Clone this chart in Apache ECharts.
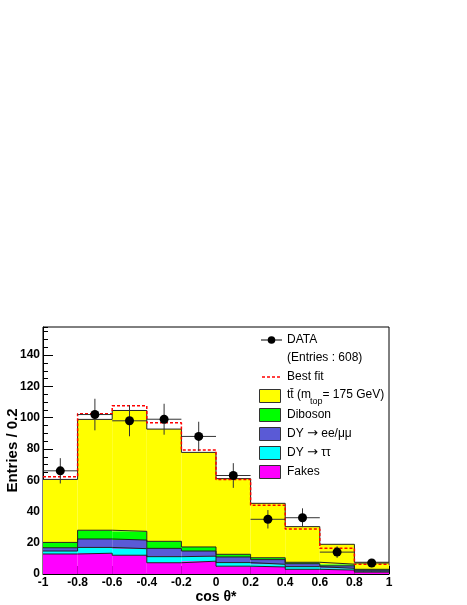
<!DOCTYPE html>
<html>
<head>
<meta charset="utf-8">
<script src="https://cdn.jsdelivr.net/npm/echarts@6/dist/echarts.min.js"></script>
<style>
html,body{margin:0;padding:0;background:#fff;}
#chart{width:467px;height:605px;}
</style>
</head>
<body>
<div id="chart"></div>
<script>
// ---- data ----
const binLow = [-1, -0.8, -0.6, -0.4, -0.2, 0, 0.2, 0.4, 0.6, 0.8];
const binWidth = 0.2;
const fakes    = [12.8, 13.3, 12.0, 7.2, 8.2, 5.0, 4.5, 3.0, 2.5, 1.2];
const dyTauTau = [1.9, 3.7, 4.2, 3.9, 3.2, 2.3, 1.7, 1.7, 1.1, 0.6];
const dyEeMuMu = [2.1, 5.4, 5.5, 5.3, 3.3, 3.6, 3.0, 1.9, 1.6, 0.7];
const diboson  = [3.4, 5.6, 5.6, 4.5, 2.6, 1.7, 1.2, 0.9, 1.1, 0.5];
const ttbar    = [40.3, 70.9, 77.3, 71.8, 60.5, 48.4, 34.8, 22.8, 12.7, 4.5];
const bestFit  = [62.2, 102.5, 107.6, 96.7, 79.3, 60.5, 44.0, 28.8, 16.4, 6.2];
const dataCounts = [66, 102, 98, 99, 88, 63, 35, 36, 14, 7];
const dataErr    = [8.1, 10.1, 9.9, 9.9, 9.4, 7.9, 5.9, 6.0, 3.7, 2.6];
const yTicks = [0, 20, 40, 60, 80, 100, 120, 140];
const xTicks = [-1, -0.8, -0.6, -0.4, -0.2, 0, 0.2, 0.4, 0.6, 0.8, 1];

const components = [
  {name: 'Fakes', values: fakes, color: '#ff00ff'},
  {name: 'DY \u2192 \u03c4\u03c4', values: dyTauTau, color: '#00ffff'},
  {name: 'DY \u2192 ee/\u03bc\u03bc', values: dyEeMuMu, color: '#5a5ad6'},
  {name: 'Diboson', values: diboson, color: '#00ff00'},
  {name: 'ttbar', values: ttbar, color: '#ffff00'}
];

const FONT = '"Liberation Sans", Arial, Helvetica, sans-serif';
const series = [];
let bottoms = binLow.map(() => 0);
const tops = [];
components.forEach((c) => {
  const rows = binLow.map((x, i) => [x, x + binWidth, bottoms[i], bottoms[i] + c.values[i]]);
  const top = rows.map(r => r[3]);
  tops.push(top);
  series.push({
    type: 'custom', name: c.name, z: 2,
    data: rows,
    encode: {x: [0, 1], y: [2, 3]},
    renderItem: (params, api) => {
      const p0 = api.coord([api.value(0), api.value(3)]);
      const p1 = api.coord([api.value(1), api.value(2)]);
      return {type: 'rect', shape: {x: p0[0], y: p0[1], width: p1[0] - p0[0], height: p1[1] - p0[1]},
        style: {fill: c.color}};
    }
  });
  bottoms = top;
});
// outlines of each stacked layer (step lines)
tops.forEach((top) => {
  const pts = binLow.map((x, i) => [x, top[i]]);
  pts.push([binLow[binLow.length - 1] + binWidth, top[top.length - 1]]);
  series.push({
    type: 'line', step: 'end', data: pts, symbol: 'none', z: 3,
    lineStyle: {color: '#222', width: 1}, silent: true
  });
});
// best fit
{
  const pts = binLow.map((x, i) => [x, bestFit[i]]);
  pts.push([binLow[binLow.length - 1] + binWidth, bestFit[bestFit.length - 1]]);
  series.push({
    type: 'line', step: 'end', data: pts, symbol: 'none', z: 4,
    lineStyle: {color: '#ff0000', width: 1.5, type: [3, 2]}, silent: true
  });
}
// data points
series.push({
  type: 'custom', name: 'DATA', z: 5,
  data: binLow.map((x, i) => [x + binWidth / 2, dataCounts[i], dataErr[i], x, x + binWidth]),
  encode: {x: 0, y: 1},
  renderItem: (params, api) => {
    const c = api.coord([api.value(0), api.value(1)]);
    const l = api.coord([api.value(3), api.value(1)]);
    const r = api.coord([api.value(4), api.value(1)]);
    const up = api.coord([api.value(0), api.value(1) + api.value(2)]);
    const dn = api.coord([api.value(0), api.value(1) - api.value(2)]);
    return {type: 'group', children: [
      {type: 'line', shape: {x1: l[0], y1: c[1], x2: r[0], y2: c[1]}, style: {stroke: '#333', lineWidth: 1}},
      {type: 'line', shape: {x1: c[0], y1: up[1], x2: c[0], y2: dn[1]}, style: {stroke: '#333', lineWidth: 1}},
      {type: 'circle', shape: {cx: c[0], cy: c[1], r: 4.5}, style: {fill: '#000'}}
    ]};
  }
});

// ---- legend (graphic) ----
const measure = (t, font) => {
  const ctx = document.createElement('canvas').getContext('2d');
  ctx.font = font;
  return ctx.measureText(t).width;
};
const LX = 287;
const legendFont = '12px ' + FONT;
const graphic = [];
const richStyle = {
  a: {fontSize: 12, fontFamily: FONT, color: '#000'},
  b: {fontSize: 13, fontFamily: '"DejaVu Sans", sans-serif', color: '#000'}
};
const txt = (t, x, y, font) => ({type: 'text', x: x, y: y, z: 10,
  style: {text: t, font: font || legendFont, fill: '#000', verticalAlign: 'middle', align: 'left'}});
const richTxt = (t, x, y) => ({type: 'text', x: x, y: y, z: 10,
  style: {text: t, rich: richStyle, font: legendFont, fill: '#000', verticalAlign: 'middle', align: 'left'}});
// DATA
graphic.push({type: 'line', shape: {x1: 261, y1: 340, x2: 282, y2: 340}, style: {stroke: '#000', lineWidth: 1}, z: 10});
graphic.push({type: 'circle', shape: {cx: 271.5, cy: 340, r: 3.8}, style: {fill: '#000'}, z: 10});
graphic.push(txt('DATA', LX, 340));
graphic.push(txt('(Entries : 608)', LX, 358));
// Best fit
graphic.push({type: 'line', shape: {x1: 262, y1: 377, x2: 282, y2: 377}, style: {stroke: '#ff0000', lineWidth: 1.5, lineDash: [3, 2]}, z: 10});
graphic.push(txt('Best fit', LX, 377));
// boxes
const boxY = [396, 415, 434, 453, 472];
const boxComps = [components[4], components[3], components[2], components[1], components[0]];
boxComps.forEach((c, i) => {
  graphic.push({type: 'rect', shape: {x: 259.5, y: boxY[i] - 6.5, width: 21, height: 13},
    style: {fill: c.color, stroke: '#333', lineWidth: 1}, z: 10});
});
// ttbar label with subscript
{
  const a = 'tt\u0304 (m';
  const wa = measure(a, legendFont);
  const subFont = '9px ' + FONT;
  const ws = measure('top', subFont);
  graphic.push(txt(a, LX, 395));
  graphic.push(txt('top', LX + wa - 1, 402, subFont));
  graphic.push(txt('= 175 GeV)', LX + wa + ws - 1, 395));
}
graphic.push(txt('Diboson', LX, 415));
graphic.push(richTxt('{a|DY }{b|\u2192}{a| ee/\u03bc\u03bc}', LX, 434));
graphic.push(richTxt('{a|DY }{b|\u2192}{a| \u03c4\u03c4}', LX, 453));
graphic.push(txt('Fakes', LX, 472));

const chart = echarts.init(document.getElementById('chart'), null, {renderer: 'canvas'});
chart.setOption({
  animation: false,
  backgroundColor: '#fff',
  grid: {left: 43, top: 327, right: 78, bottom: 31, show: true, borderColor: '#000', borderWidth: 1,
    backgroundColor: 'transparent', containLabel: false, outerBoundsMode: 'none'},
  xAxis: {
    type: 'value', min: xTicks[0], max: xTicks[xTicks.length - 1], interval: 0.2,
    axisLine: {show: true, onZero: false, lineStyle: {color: '#000', width: 1}},
    axisTick: {show: true, inside: true, length: 8, lineStyle: {color: '#000'}},
    minorTick: {show: true, splitNumber: 4, length: 4, lineStyle: {color: '#000'}},
    splitLine: {show: false},
    axisLabel: {color: '#000', fontWeight: 'bold', fontSize: 12, fontFamily: FONT, margin: 3},
    name: 'cos \u03b8*', nameLocation: 'middle', nameGap: 13,
    nameTextStyle: {color: '#000', fontWeight: 'bold', fontSize: 14, fontFamily: FONT}
  },
  yAxis: [{
    type: 'value', min: yTicks[0], max: 158, interval: 20, position: 'left',
    axisLine: {show: true, onZero: false, lineStyle: {color: '#000', width: 1}},
    axisTick: {show: true, inside: true, length: 10, lineStyle: {color: '#000'}},
    splitLine: {show: false},
    axisLabel: {color: '#000', fontWeight: 'bold', fontSize: 12, fontFamily: FONT, margin: 3, showMaxLabel: false},
    name: 'Entries / 0.2', nameLocation: 'middle', nameGap: 23, nameMoveOverlap: false,
    nameTextStyle: {color: '#000', fontWeight: 'bold', fontSize: 15, fontFamily: FONT}
  }, {
    type: 'value', min: yTicks[0], max: 158, interval: 5, position: 'left',
    axisLine: {show: false, onZero: false},
    axisTick: {show: true, inside: true, length: 5, lineStyle: {color: '#000'}},
    axisLabel: {show: false}, splitLine: {show: false}
  }],
  series: series,
  graphic: graphic
});
</script>
</body>
</html>
